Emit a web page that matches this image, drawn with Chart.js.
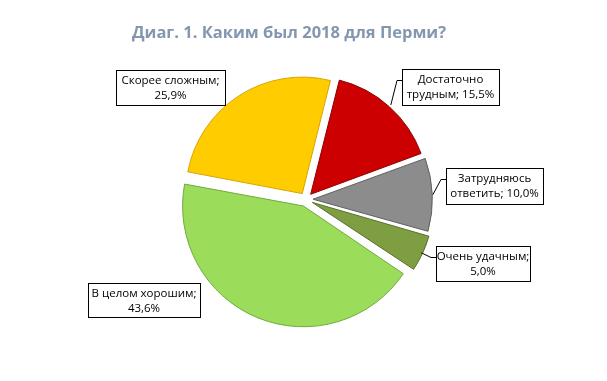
<!DOCTYPE html>
<html>
<head>
<meta charset="utf-8">
<script src="https://cdn.jsdelivr.net/npm/chart.js@4.4.1/dist/chart.umd.min.js"></script>
<style>
  body { margin: 0; background: #fff; }
  #wrap { position: relative; width: 607px; height: 381px; }
  #title {
    position: absolute; left: 0; top: 20px; width: 578px;
    text-align: center; font: bold 16.5px 'Open Sans', sans-serif; color: #8497B0;
  }
  canvas { position: absolute; left: 0; top: 0; }
</style>
</head>
<body>
<div id="wrap">
  <canvas id="pieChart" width="607" height="381"></canvas>
  <div id="title">Диаг. 1. Каким был 2018 для Перми?</div>
</div>
<script>
const categories = ['Достаточно трудным', 'Затрудняюсь ответить', 'Очень удачным', 'В целом хорошим', 'Скорее сложным'];
const shares = [15.5, 10.0, 5.0, 43.6, 25.9];
const sliceColors = ['#CC0000', '#8C8C8C', '#7F9E42', '#9CDC5B', '#FFCC00'];
const rimColors = ['#E03030', '#A8A8A8', '#96B25E', '#B2E67C', '#FFDC40'];
const edgeColors = ['#8E0000', '#606060', '#56702A', '#6FAA3A', '#D9A300'];

// callout boxes: x, y, w, h, where the text wraps, leader anchor along slice (null = no leader)
const callouts = [
  { x: 402, y: 69, w: 97, h: 36, wrap: 'word', anchor: 0.5 },
  { x: 446, y: 168, w: 97, h: 36, wrap: 'word', anchor: 0.5 },
  { x: 436, y: 246, w: 94, h: 35, wrap: 'value', anchor: 0.5 },
  { x: 88, y: 283, w: 112, h: 34, wrap: 'value', anchor: null },
  { x: 116, y: 70, w: 109, h: 35, wrap: 'value', anchor: null }
];

function calloutLines(i) {
  const value = shares[i].toFixed(1).replace('.', ',') + '%';
  const name = categories[i];
  if (callouts[i].wrap === 'word') {
    const sp = name.indexOf(' ');
    return [name.slice(0, sp), name.slice(sp + 1) + '; ' + value];
  }
  return [name + ';', value];
}

function sliceFill(context) {
  const i = context.dataIndex;
  const arc = context.element;
  const chart = context.chart;
  if (!chart.chartArea || !arc || !arc.outerRadius) return sliceColors[i];
  const g = chart.ctx.createRadialGradient(arc.x, arc.y, 0, arc.x, arc.y, arc.outerRadius);
  g.addColorStop(0, sliceColors[i]);
  g.addColorStop(0.88, sliceColors[i]);
  g.addColorStop(0.95, rimColors[i]);
  g.addColorStop(1, edgeColors[i]);
  return g;
}

const calloutPlugin = {
  id: 'callouts',
  afterDraw(chart) {
    const ctx = chart.ctx;
    const meta = chart.getDatasetMeta(0);
    ctx.save();
    ctx.font = '11.5px "Open Sans"';
    ctx.textAlign = 'center';
    ctx.textBaseline = 'middle';
    meta.data.forEach((arc, i) => {
      const c = callouts[i];
      if (c.anchor !== null) {
        const a = arc.startAngle + (arc.endAngle - arc.startAngle) * c.anchor;
        const mid = (arc.startAngle + arc.endAngle) / 2;
        const shift = (arc.options.offset || 0) / 4 * 1.5;
        const px = arc.x + Math.cos(mid) * shift + Math.cos(a) * arc.outerRadius;
        const py = arc.y + Math.sin(mid) * shift + Math.sin(a) * arc.outerRadius;
        ctx.strokeStyle = '#000';
        ctx.lineWidth = 1;
        ctx.beginPath();
        ctx.moveTo(c.x, c.y + 11.5);
        ctx.lineTo(c.x - 5, c.y + 11.5);
        ctx.lineTo(px, py);
        ctx.stroke();
      }
      ctx.fillStyle = '#fff';
      ctx.fillRect(c.x, c.y, c.w, c.h);
      ctx.strokeStyle = '#000';
      ctx.lineWidth = 1;
      ctx.strokeRect(c.x + 0.5, c.y + 0.5, c.w, c.h);
      ctx.fillStyle = '#000';
      const lines = calloutLines(i);
      ctx.fillText(lines[0], c.x + c.w / 2, c.y + 11);
      ctx.fillText(lines[1], c.x + c.w / 2, c.y + 26);
    });
    ctx.restore();
  }
};

new Chart(document.getElementById('pieChart'), {
  type: 'pie',
  data: {
    labels: categories,
    datasets: [{
      data: shares,
      backgroundColor: sliceFill,
      borderColor: edgeColors,
      borderWidth: 1,
      offset: 28,
      radius: 116.5
    }]
  },
  options: {
    responsive: false,
    animation: false,
    rotation: 14,
    layout: { padding: { left: 100, right: 95, top: 79, bottom: 61 } },
    plugins: {
      legend: { display: false },
      tooltip: { enabled: false }
    }
  },
  plugins: [calloutPlugin]
});
</script>
</body>
</html>
